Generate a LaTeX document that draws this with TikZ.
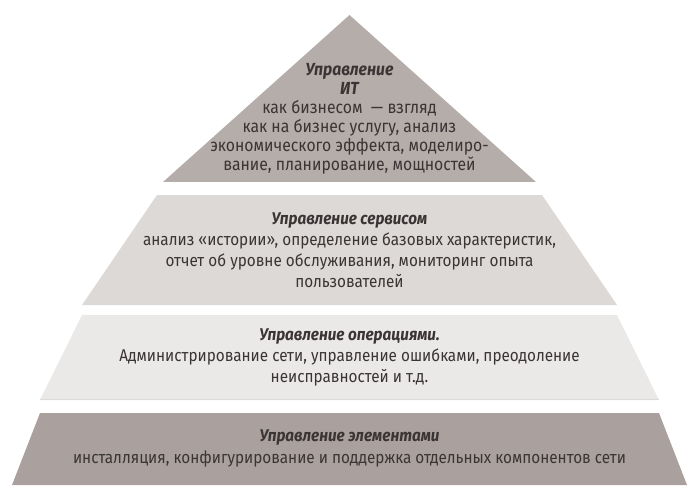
\documentclass[tikz,border=0pt]{standalone}
\usepackage{fontspec}
\setmainfont{Fira Sans}[FakeStretch=0.9]
\usetikzlibrary{positioning}

\definecolor{tierIT}{HTML}{B5ADAA}
\definecolor{tierService}{HTML}{DCD9D7}
\definecolor{tierOps}{HTML}{EBE9E7}
\definecolor{tierElem}{HTML}{AAA19E}
\definecolor{tierText}{HTML}{3A3434}

\tikzset{
  tier/.style={draw=none},
  tierlabel/.style={align=center, text=tierText, inner sep=0pt,
    font=\fontsize{17}{21}\selectfont},
}
\newcommand{\tiertitle}[1]{{\bfseries\itshape #1}}

\begin{document}
\begin{tikzpicture}[x=1pt, y=-1pt]
    \useasboundingbox (0,0) rectangle (699,500);
    % levels of the pyramid, top to bottom
    \fill[tierIT] (349.5,15)--(536,182)--(163,182)--cycle;
    \fill[tierService] (157,195)--(542,195)--(617,305)--(82,305)--cycle;
    \fill[tierOps] (82,315)--(617,315)--(659,400)--(40,400)--cycle;
    \draw[tierService, line width=1.2pt] (40,399.4)--(659,399.4);
    \fill[tierElem] (40,413)--(659,413)--(687,485)--(12,485)--cycle;

    \node[tierlabel, font=\fontsize{17.5}{19}\selectfont] (it) at (349.5,119)
        {\tiertitle{Управление}\\ \tiertitle{ИТ}\\
        как бизнесом \ — взгляд\\ как на бизнес услугу, анализ\\
        экономического эффекта, моделиро-\\ вание, планирование, мощностей};
    \node[tierlabel] (service) at (349.5,250)
        {\tiertitle{Управление сервисом}\\
        анализ «истории», определение базовых характеристик,\\
        отчет об уровне обслуживания, мониторинг опыта\\ пользователей};
    \node[tierlabel] (ops) at (349.5,357)
        {\tiertitle{Управление операциями.}\\
        Администрирование сети, управление ошибками, преодоление\\
        неисправностей и т.д.};
    \node[tierlabel, font=\fontsize{17}{22}\selectfont] (elem) at (349.5,448)
        {\tiertitle{Управление элементами}\\
        инсталляция, конфигурирование и поддержка отдельных компонентов сети};
\end{tikzpicture}
\end{document}
